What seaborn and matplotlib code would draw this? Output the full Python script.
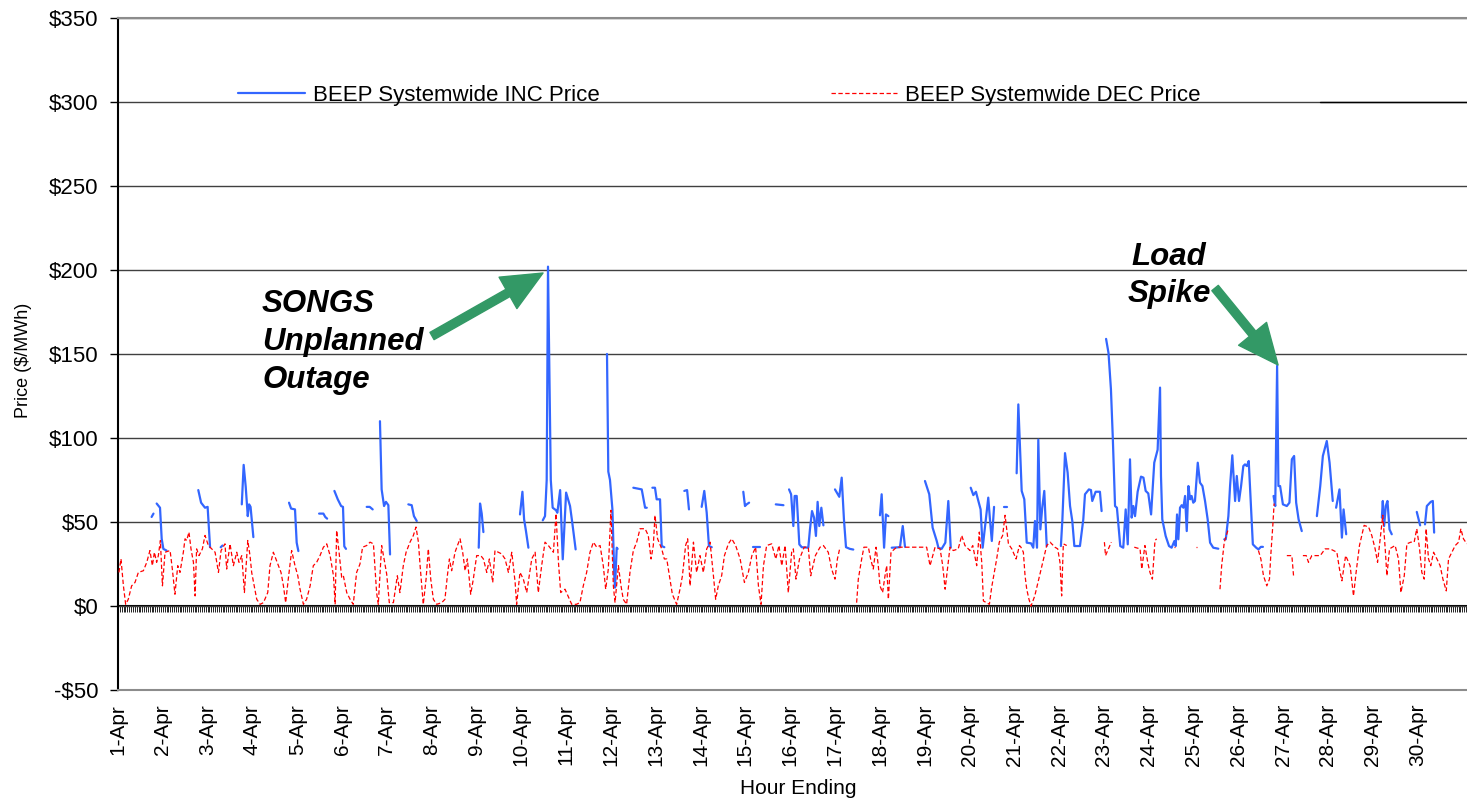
import numpy as np
import pandas as pd
import seaborn as sns
import matplotlib.pyplot as plt
from matplotlib.lines import Line2D
from matplotlib.ticker import FuncFormatter

# BEEP Systemwide prices, April, hourly (hour 0 = 1-Apr 00:00); None breaks the line
inc_hours = [
    18, 19, None,
    20.7, 22.5, 23.4, 24.3, 26, None,
    43, 44.5, 46.6, 48, 49.3, None,
    55, 56, None,
    66.3, 67.3, 68.4, 69.5, 70.2, 71, 72.5, None,
    91.6, 92.7, 94.8, 95.7, 96.6, None,
    107.7, 110, 111, 112, None,
    115.9, 117.7, 119.5, 120.5, 121.2, 122.1, None,
    133.2, 134.8, 136.4, None,
    140.3, 141.2, 142.5, 143.5, 144.8, 145.7, None,
    155.5, 157.3, 158.5, 160, None,
    193.2, 193.9, 194.8, 195.7, None,
    215.3, 216.6, 217.5, 218.5, 219.8, None,
    227.5, 228.7, 229.6, 230.3, 231.8, 232.8, 234.6, 235.3, 236.8, 238.2, 240, 242.1, 243.3, 245.1, None,
    261.9, 262.6, 263.5, 264.8, 265.8, 266.2, 267.1, 267.6, None,
    276, 280.5, 282.3, 283.2, None,
    286.2, 287.6, 288.5, 290.3, 291.2, 292.6, None,
    303.3, 304.8, 305.8, None,
    312.6, 314, 315.3, 316.5, 318, None,
    334.9, 335.8, 336.7, 338, None,
    340.3, 343.9, None,
    352.3, 356.4, None,
    359.4, 360.5, 361.7, 362.4, 363.5, 364.9, 366.2, 369.7, 370.6, 371.7, 372.8, 373.8, 374.7, 375.6, 376.7, 377.8, None,
    384, 386.3, 387.6, 388.8, 389.9, 392, 393.8, None,
    408.1, 409, 410.3, 411.3, 412.6, None,
    414.4, 418.8, 420.3, 421.5, None,
    432.2, 434.5, 436.3, 438.5, 439.4, 441.1, 443.1, 444.7, 446, None,
    456.7, 458.1, 459.5, 460.8, 462, 463.1, 464.4, 466.1, 467, 468, 469.2, None,
    474.7, 476.3, None,
    481.3, 482.2, 484, 485.4, 486.7, 489, 490.2, 491.1, 492.2, 492.9, 494, 495, 496.1, 497.4, None,
    505, 505.8, 507.2, 508.6, 509.9, 511.1, 512.2, 515.2, 517, 517.9, 520, 521.1, 521.8, 523.6, 525.9, 526.8, None,
    529.2, 530.5, 531.8, 532.8, 534, 535, 536.8, 538.4, 539.7, 540.8,
    542, 542.9, 543.8, 544.7, 546.1, 547.9, 549.2, 550.4, 551.8, 553.3,
    555, 556.8, 558.1, 558.6, 559.3, 561.1, 562.9, 564.3, 565.8, 566.5,
    567.2, 567.9, 568.8, 569.7, 570.6, 571.5, 572.4, 573.3, 574.2, 575,
    575.9, 576.8, 578.3, 579.5, 580.8, 582.2, 583.6, 584.9, 586.6, 589.3, None,
    592.5, 593.3, 594.7, 595.6, 596.8, 598.3, 599.2, 600.4, 601.5, 602.7,
    603.6, 604.6, 605.6, 606.7, 607.8, 609.6, 610.8, 612.1, 613.2, None,
    618.9, 619.8, 620.8, 621.5, 622.4, 623.9, 626, 627.4, 628.7, 629.9, 631, 632.3, 634, None,
    642.1, 643.9, 645.3, 647.4, 648.9, 650.6, None,
    652.4, 654.2, 655.5, 656.4, 657.8, None,
    676.9, 677.4, 678.1, 679, 679.9, 681, 682.2, None,
    695.6, 697.4, None,
    700, 701, 703.1, 704.2, 704.9,
]
inc_prices = [
    53, 55, None,
    61, 58.5, 40, 34, 33, None,
    69, 61.5, 58.5, 59, 35, None,
    35, 36, None,
    60.5, 84, 71, 53.5, 60.5, 59, 41, None,
    61.5, 58, 57.5, 37.7, 32.7, None,
    55, 55, 53, 52, None,
    68.5, 63.5, 59.5, 59, 35.5, 34, None,
    59, 59, 57.5, None,
    110, 69.4, 59.5, 62, 60, 30.7, None,
    60.5, 60, 53.5, 50.6, None,
    34.7, 61, 55, 44, None,
    54.5, 68, 51.6, 44.6, 34.7, None,
    51, 53.5, 75, 202, 75, 58.5, 57, 55.5, 69, 27.8, 67.5, 59.5, 49.6, 33.7, None,
    150, 80, 75, 57.5, 17.9, 11, 34.7, 34, None,
    70.4, 69.4, 58.5, 58.5, None,
    70.4, 70.4, 63.5, 63.5, 35.7, 35, None,
    68.5, 69, 57.5, None,
    59, 68.5, 55.5, 35.7, 35, None,
    68, 59.5, 60.5, 61.5, None,
    35, 35, None,
    60.5, 60, None,
    69.4, 66.5, 47.6, 65.5, 65.5, 36.7, 35, 34.7, 45.6, 56.5, 52.6, 41.7, 62, 47.6, 58.5, 48, None,
    69.4, 65, 76.4, 51.6, 35, 34, 33.6, None,
    54, 66.5, 34.7, 54.5, 53.5, None,
    34.7, 35, 47.6, 35.2, None,
    74.4, 66.5, 46.6, 38.7, 34.7, 34, 37.7, 62.5, 34.7, None,
    70.4, 66, 68, 62.5, 57.5, 34.7, 47.6, 64.5, 51.6, 38.7, 59, None,
    59, 59, None,
    79, 120, 68.5, 63.5, 37.7, 37.3, 34.7, 50.6, 34.7, 99, 45.6, 58.5, 68.5, 35.7, None,
    35.7, 51.6, 91, 79.4, 59.5, 50.6, 35.7, 35.7, 51.6, 66.5, 69.4, 69, 62.5, 68, 68, 56.5, None,
    159, 150.6, 129, 100, 59.5, 58.5, 35.7, 34.7, 57.5, 36.7,
    87.3, 52.6, 59.5, 53.5, 68, 77, 76.4, 68.5, 67, 54.5,
    85.3, 93, 130, 77.4, 51.6, 41.7, 35.7, 34.7, 38.7, 35.7,
    54.5, 39.7, 58.5, 60, 58.5, 65.5, 44.6, 71.4, 63.5, 65.5,
    61.5, 62.5, 85.3, 73.4, 71.4, 62.5, 51.6, 37.7, 34.7, 34.1, None,
    39.7, 39.7, 53.5, 71.4, 89.7, 62.5, 77.4, 62.5, 71.4, 83.3,
    84.3, 83.3, 86.3, 61.5, 36.7, 34.7, 33.7, 35.2, 35.2, None,
    65.5, 59.5, 143, 71.4, 71.4, 60.5, 59.5, 61.5, 87.3, 89.3, 61.5, 51.6, 44.6, None,
    53.5, 71.4, 89.3, 98.2, 85.3, 62.5, None,
    58.5, 69.4, 40.7, 57.5, 42.7, None,
    52.6, 62.5, 47.6, 59.5, 62.5, 45.6, 42.7, None,
    56, 48, None,
    48.6, 59.5, 62, 62.5, 43.7,
]

dec_hours = [
    0.5, 1.6, 2.9, 4.1, 5.5, 7.3, 9.1, 10.9, 13.6, 15.4,
    17.1, 18.4, 19.5, 20.7, 21.6, 22.7, 23.8, 25.2, 27.9, 29.1,
    30.5, 32, 33.2, 35, 35.9, 36.8, 38, 39.1, 40.4, 41.3,
    42.1, 43.4, 45.2, 46.6, 48.4, 52, 53.8, 55.2, 57.3, 58.2,
    60, 61.8, 63.6, 64.8, 66.3, 67.7, 69.5, 70.7, 71.6, 74.3,
    76.1, 77.9, 80.2, 81.4, 83.2, 85.9, 87.3, 88.6, 89.8, 91.2,
    93, 94.8, 96.3, 97.5, 99.3, 101, 102.9, 104.6, 106.4, 108.2,
    110, 111.8, 113.6, 115.4, 116.3, 117.1, 118.4, 119.8, 120.7, 122.5,
    124.3, 126, 127.8, 129.6, 131, 133.2, 135, 136.8, 138.5, 139.4,
    141.2, 142.5, 143.9, 145.3, 147.5, 149.6, 151, 152.8, 154.3, 156.4,
    158.2, 159.6, 160.9, 161.8, 163.5, 165, 166.2, 167.5, 168.9, 170.7,
    173.4, 175.1, 176.4, 177.5, 178.7, 180.5, 181.8, 183.2, 184.6, 185.9,
    187.1, 188.9, 190.3, 192.1, 194.3, 195.7, 197.5, 198.9, 200.7, 201.9,
    203.7, 205.5, 207.3, 209.1, 210.9, 212.7, 213.5, 215.3, 217.1, 218.9,
    221.6, 223.4, 225.1, 226.9, 228.7, 230.5, 233.2, 234.6, 235.9, 237.1,
    239.4, 241, 243, 245.5, 247.4, 249.2, 251, 252.8, 254.6, 256.4,
    258.2, 259.9, 261.2, 262.6, 264, 265.3, 266.2, 268, 269.4, 270.6,
    272.4, 274.2, 276, 277.8, 279.6, 282.3, 284, 285.5, 286.7, 287.6,
    289, 291.2, 292.6, 293.9, 295.6, 296.9, 299.2, 301, 302.3, 304,
    305.1, 306.4, 308.2, 309.9, 311.7, 313.5, 315.3, 317.1, 318.9, 320.1,
    321.5, 323.3, 324.8, 326.9, 328.7, 330.8, 333.2, 335.5, 337.6, 339.5,
    341.5, 343, 344.4, 345.7, 347.4, 350.1, 352.3, 354, 355.5, 357.3,
    359, 360.8, 361.7, 363.1, 365, 367.5, 369.7, 371, 373.5, 376,
    377.8, 380.4, 382.2, 384, 385.3, 386.7, None,
    395.6, 396.5, 398.3, 399.5, 401.9, 403.1, 404.5, 406, 407.2, 408.1,
    409.5, 410.8, 411.7, 412.6, 414, 417, 422.4, 426, 430.4, 433.1,
    434.9, 437.6, 440.3, 441.7, 443, 445.6, 447.4, 450, 451.9, 453.6,
    456.3, 457.8, 459.9, 461.3, 462.6, 463.5, 466.7, 467.9, 470.6, 472,
    473.8, 475.1, 476.9, 478.7, 481, 482.8, 483.6, 484.9, 485.8, 486.7,
    487.9, 489, 491, 494, 497.4, 499.2, 501.8, 503.3, 504.5, 505.4,
    506.3, 508.1, None, 528.3, 528.9, 532, None,
    544.3, 547.4, 548.3, 550, 551.5, 552.7, 554, 555.4, 556.3, None,
    565.5, 566.3, None, 577.4, 578, None,
    590.2, 591.1, 592.5, 594.7, None,
    610.8, 612.1, 613.5, 615.3, 616.7, 617.4, 618.5, 619.2, None,
    626, 628.7, 629.6, None,
    634.6, 636.4, 637.6, 639.4, 643.9, 646.5, 649.2, 652.8, 654.2, 655.5,
    657.5, 659.9, 661.7, 663.1, 664.9, 667.4, 669.8, 671.5, 673.3, 674.6,
    676, 677.4, 678.7, 679.6, 681, 684, 685.8, 687.1, 688.9, 690.3,
    692.4, 694.2, 695.6, 697.1, 698.3, 699.6, 700.6, 701.9, 703.1, 704.6,
    706.4, 708.1, 709.6, 711.4, 712.6, 714.4, 716.2, 718, 719.2, 720.6,
    722.4,
]
dec_prices = [
    20, 28, 12, 1, 4, 12, 14, 20, 21, 26,
    33, 24, 32, 26, 30, 39, 12, 32, 33, 22,
    7, 24, 20, 32, 40, 39, 44, 34, 26, 6,
    34, 30, 34, 42, 36, 32, 20, 33, 37, 22,
    37, 24, 32, 26, 30, 8, 39, 30, 20, 4,
    1, 2, 8, 24, 32, 24, 20, 12, 2, 16,
    33, 24, 18, 10, 1, 4, 12, 24, 26, 30,
    35, 37, 30, 18, 1, 45, 32, 17, 18, 8,
    4, 1, 20, 25, 35, 36, 38, 37, 8, 1,
    36, 28, 19, 2, 2, 18, 8, 24, 32, 38,
    42, 47, 38, 24, 1, 16, 34, 16, 4, 1,
    2, 4, 18, 28, 21, 32, 36, 40, 32, 21,
    28, 7, 16, 30, 30, 28, 20, 28, 14, 33,
    32, 31, 28, 20, 32, 14, 1, 20, 16, 8,
    28, 32, 8, 24, 38, 36, 32, 55, 26, 8,
    10, 6, 1, 1, 2, 12, 20, 32, 38, 35,
    36, 24, 10, 22, 57, 12, 2, 24, 12, 4,
    1, 20, 33, 38, 46, 46, 42, 28, 36, 54,
    40, 34, 28, 28, 16, 7, 1, 10, 18, 36,
    40, 12, 38, 20, 30, 20, 34, 38, 18, 4,
    12, 18, 30, 37, 40, 36, 28, 14, 20, 30,
    35, 12, 1, 24, 36, 37, 28, 36, 24, 36,
    8, 32, 34, 16, 28, 35, 35, 18, 30, 35,
    36, 32, 22, 16, 28, 35, None,
    2, 16, 28, 35, 35, 28, 22, 35, 24, 12,
    8, 18, 24, 4, 32, 35, 35, 35, 35, 35,
    24, 35, 34, 24, 10, 35, 33, 34, 42, 36,
    33, 36, 24, 44, 26, 3, 1, 11, 28, 38,
    42, 54, 37, 34, 28, 36, 35, 32, 18, 10,
    4, 0, 6, 20, 36, 38, 35, 34, 26, 6,
    37, 36, None, 38, 30, 38, None,
    35, 34, 22, 36, 26, 20, 16, 39, 40, None,
    35, 35, None, 35, 35, None,
    10, 24, 38, 46, None,
    33, 28, 18, 12, 16, 30, 48, 61, None,
    30, 30, 18, None,
    30, 30, 26, 30, 30, 34, 34, 32, 22, 15,
    30, 24, 6, 20, 36, 48, 47, 42, 34, 26,
    40, 54, 34, 18, 34, 36, 28, 8, 18, 37,
    38, 38, 46, 34, 20, 16, 46, 28, 24, 32,
    28, 24, 16, 9, 28, 32, 36, 38, 46, 40,
    37,
]

day_labels = [f"{d}-Apr" for d in range(1, 31)]
day_hours = [24 * (d - 1) for d in range(1, 31)]


def to_frame(hours, prices):
    rows, seg = [], 0
    for h, p in zip(hours, prices, strict=True):
        if h is None:
            seg += 1
            continue
        rows.append((h, p, seg))
    return pd.DataFrame(rows, columns=['hour', 'price', 'seg'])


inc = to_frame(inc_hours, inc_prices)
dec = to_frame(dec_hours, dec_prices)

sns.set_style('white')
plt.rcParams['font.family'] = ['Liberation Sans', 'DejaVu Sans']
plt.rcParams.update({'text.color': 'black', 'axes.labelcolor': 'black',
                     'xtick.color': 'black', 'ytick.color': 'black'})

W, H = 1467, 801
fig = plt.figure(figsize=(W / 100, H / 100), dpi=100)
ax = fig.add_axes([118 / W, 1 - 690 / H, 1 - 118 / W, (690 - 18) / H])

inc_color = '#3366FF'
dec_color = '#FF0000'
sns.lineplot(data=inc, x='hour', y='price', units='seg', estimator=None,
             color=inc_color, linewidth=1.6, ax=ax, zorder=3)
sns.lineplot(data=dec, x='hour', y='price', units='seg', estimator=None,
             color=dec_color, linewidth=0.9, linestyle=(0, (3.5, 2)), ax=ax, zorder=4)

# axes
ax.set_xlim(0, 722.5)
ax.set_ylim(-50, 350)
ax.set_yticks(np.arange(-50, 351, 50))
ax.yaxis.set_major_formatter(FuncFormatter(lambda v, _: f"-${-v:.0f}" if v < 0 else f"${v:.0f}"))
ax.tick_params(axis='y', direction='out', length=6, width=1, pad=8, labelsize=16, left=True)
ax.set_xticks(day_hours)
ax.set_xticklabels(day_labels)
ax.tick_params(axis='x', length=0, pad=10, labelsize=15, labelrotation=90)
ax.grid(axis='y', color='#404040', linewidth=1)
ax.grid(axis='x', visible=False)
ax.spines['right'].set_visible(False)
ax.spines['left'].set_color('black')
ax.spines['left'].set_linewidth(1.5)
for s in ['top', 'bottom']:
    ax.spines[s].set_color('#8c8c8c')
    ax.spines[s].set_linewidth(1.5)
    ax.spines[s].set_zorder(5)

# hourly category ticks along the $0 line
sec = ax.secondary_xaxis(50 / 400)
sec.set_xticks(np.arange(0, 723))
sec.tick_params(axis='x', direction='out', length=4, width=0.6, color='black', labelbottom=False)
sec.spines['bottom'].set_color('black')
sec.spines['bottom'].set_linewidth(1.5)

ax.set_xlabel('')
ax.set_ylabel('Price ($/MWh)', fontsize=13)
ax.yaxis.set_label_coords(-(118 - 32) / (W - 118), 0.49)
fig.text(798 / W, 1 - 788 / H, 'Hour Ending', ha='center', va='center', fontsize=15)

# legend
handles = [Line2D([], [], color=inc_color, linewidth=1.6),
           Line2D([], [], color=dec_color, linewidth=0.9, linestyle=(0, (3.5, 2)))]
fig.legend(handles, ['BEEP Systemwide INC Price', 'BEEP Systemwide DEC Price'],
           loc='upper left', bbox_to_anchor=(238 / W, 1 - 85 / H), ncol=2, frameon=False,
           fontsize=16, handlelength=3.0, handletextpad=0.36, columnspacing=10.4,
           borderpad=0, borderaxespad=0)
fig.add_artist(Line2D([1320 / W, 1.0], [1 - 102 / H] * 2, color='black', linewidth=1))


# annotations (pixel positions converted to data coordinates)
def hour_at(x):
    return (x - 118) / 1.867


def price_at(y):
    return (606 - y) / 1.68


note_font = dict(fontsize=22.5, fontweight='bold', fontstyle='italic', color='black')
for line, base in zip(['SONGS', 'Unplanned', 'Outage'], [312, 350, 388]):
    ax.text(hour_at(262), price_at(base), line, ha='left', va='baseline', **note_font)
for line, base in zip(['Load', 'Spike'], [265, 302]):
    ax.text(hour_at(1169), price_at(base), line, ha='center', va='baseline', **note_font)

arrow = dict(arrowstyle='simple,head_length=1.45,head_width=1.3,tail_width=0.3',
             color='#339966', mutation_scale=20, shrinkA=0, shrinkB=0)
ax.annotate('', xy=(hour_at(543), price_at(273)), xytext=(hour_at(432), price_at(336)),
            arrowprops=arrow, zorder=6)
ax.annotate('', xy=(hour_at(1278), price_at(365)), xytext=(hour_at(1215), price_at(288)),
            arrowprops=arrow, zorder=6)

fig.savefig('out.png', dpi=100)
